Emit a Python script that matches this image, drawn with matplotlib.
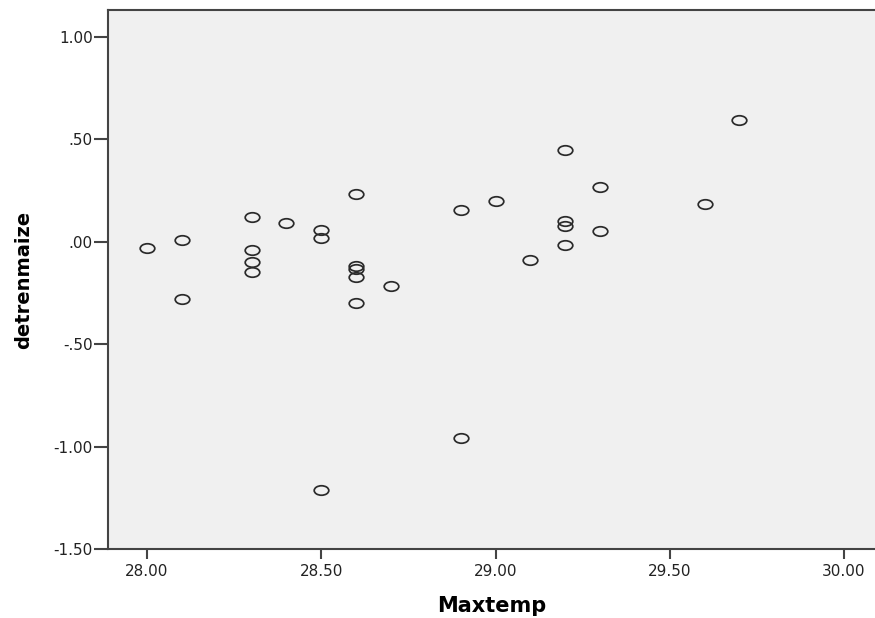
import matplotlib
matplotlib.use("Agg")
import matplotlib.pyplot as plt
from matplotlib.path import Path
from matplotlib.transforms import Affine2D

# Maxtemp vs detrended maize yield
maxtemp = [28.0, 28.1, 28.1, 28.3, 28.3, 28.3, 28.3, 28.4, 28.5, 28.5,
           28.5, 28.6, 28.6, 28.6, 28.6, 28.6, 28.7, 28.9, 28.9, 29.0,
           29.1, 29.2, 29.2, 29.2, 29.2, 29.3, 29.3, 29.6, 29.7]
detrenmaize = [-0.03, 0.01, -0.28, 0.12, -0.04, -0.10, -0.145, 0.09, 0.06, 0.02,
               -1.21, 0.235, -0.12, -0.135, -0.17, -0.30, -0.215, 0.155, -0.96, 0.20,
               -0.09, 0.45, 0.10, 0.075, -0.015, 0.27, 0.055, 0.185, 0.595]

xticks = [28.0, 28.5, 29.0, 29.5, 30.0]
xticklabels = ["28.00", "28.50", "29.00", "29.50", "30.00"]
yticks = [-1.5, -1.0, -0.5, 0.0, 0.5, 1.0]
yticklabels = ["-1.50", "-1.00", "-.50", ".00", ".50", "1.00"]

fig = plt.figure(figsize=(8.75, 6.18), dpi=100)
ax = fig.add_axes([108 / 875, 69 / 618, 1 - 108 / 875, 539 / 618])
ax.set_facecolor("#f0f0f0")

# SPSS draws slightly squashed open circles
ellipse = Path.unit_circle().transformed(Affine2D().scale(1.0, 0.65))
ax.plot(maxtemp, detrenmaize, linestyle="none", marker=ellipse, markersize=10.5,
        markerfacecolor="none", markeredgecolor="#2a2a2a", markeredgewidth=1.25)

ax.set_xlim(27.888, 30.089)
ax.set_ylim(-1.5, 1.132)

ax.set_xticks(xticks)
ax.set_xticklabels(xticklabels)
ax.set_yticks(yticks)
ax.set_yticklabels(yticklabels)

for side in ["left", "bottom", "top"]:
    ax.spines[side].set_color("#444444")
    ax.spines[side].set_linewidth(1.5)
ax.spines["right"].set_visible(False)

ax.tick_params(axis="y", direction="out", length=10, width=1.5, color="#444444",
               pad=1, labelsize=11, labelcolor="#222222")
ax.tick_params(axis="x", direction="out", length=7, width=1.5, color="#444444",
               pad=4, labelsize=11, labelcolor="#222222")

ax.set_xlabel("Maxtemp", fontsize=15, fontweight="bold", labelpad=12)
ax.set_ylabel("detrenmaize", fontsize=14, fontweight="bold", labelpad=15)

fig.savefig("out.png", dpi=100)
